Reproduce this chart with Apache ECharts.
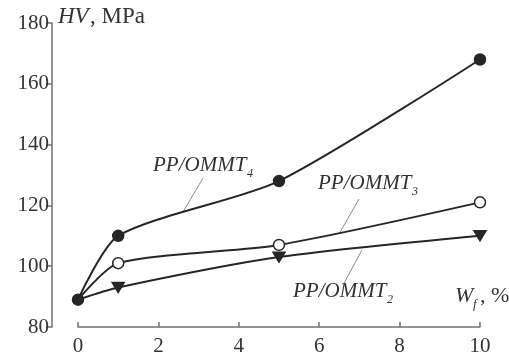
<!DOCTYPE html>
<html>
<head>
<meta charset="utf-8">
<script src="https://cdn.jsdelivr.net/npm/echarts@6/dist/echarts.min.js"></script>
<style>
  html, body { margin: 0; padding: 0; background: #fff; }
  #chart { width: 509px; height: 359px; }
</style>
</head>
<body>
<div id="chart"></div>
<script>
// filler content, wt.%
const fillerContent = [0, 1, 5, 10];
// hardness HV, MPa
const hvOmmt4 = [89, 110, 128, 168];
const hvOmmt3 = [89, 101, 107, 121];
const hvOmmt2 = [89, 93, 103, 110];

const INK = '#262626';
const AXIS = '#707070';
const TEXT = '#333';
const LEADER = '#8c8c8c';
const serif = '"Liberation Serif", "DejaVu Serif", serif';

// first point is shared by all curves, only the filled series draws it
const toPoints = (values, skipFirst) =>
  fillerContent.map((x, i) =>
    skipFirst && i === 0 ? { value: [x, values[i]], symbol: 'none' } : [x, values[i]]
  );

const lineSeries = (values, extra) =>
  Object.assign(
    {
      type: 'line',
      smooth: 0.24,
      symbolSize: 11,
      lineStyle: { color: INK, width: 2 },
      itemStyle: { color: INK, borderColor: INK, borderWidth: 1.5 },
      emphasis: { disabled: true },
    },
    extra,
    { data: values }
  );

const txt = (x, y, text, font) => ({
  type: 'text',
  left: x,
  top: y,
  style: { text: text, font: font, fill: TEXT },
});
const leader = (x1, y1, x2, y2) => ({
  type: 'line',
  shape: { x1: x1, y1: y1, x2: x2, y2: y2 },
  style: { stroke: LEADER, lineWidth: 1 },
});

const chart = echarts.init(document.getElementById('chart'), null, { renderer: 'canvas' });

chart.setOption({
  animation: false,
  grid: { left: 78, right: 29, top: 23, bottom: 32 },
  xAxis: {
    type: 'value',
    min: 0,
    max: 10,
    interval: 2,
    axisLine: { onZero: false, lineStyle: { color: AXIS, width: 1.5 } },
    axisTick: { inside: true, length: 5, lineStyle: { color: AXIS, width: 1.5 } },
    axisLabel: { color: TEXT, fontFamily: serif, fontSize: 21, margin: 9 },
    splitLine: { show: false },
  },
  yAxis: {
    type: 'value',
    min: 80,
    max: 180,
    interval: 20,
    offset: 26,
    axisLine: { show: true, onZero: false, lineStyle: { color: AXIS, width: 1.5 } },
    axisTick: { show: true, length: 6, lineStyle: { color: AXIS, width: 1.5 } },
    axisLabel: { color: TEXT, fontFamily: serif, fontSize: 21, margin: 3 },
    splitLine: { show: false },
  },
  series: [
    lineSeries(toPoints(hvOmmt2, true), {
      symbol: 'triangle',
      symbolRotate: 180,
      symbolSize: [12, 10],
    }),
    lineSeries(toPoints(hvOmmt3, true), {
      symbol: 'circle',
      itemStyle: { color: '#fff', borderColor: INK, borderWidth: 1.5 },
    }),
    lineSeries(toPoints(hvOmmt4, false), { symbol: 'circle', z: 3 }),
  ],
  graphic: [
    // axis titles
    txt(58, 5, 'HV', 'italic 23px ' + serif),
    txt(90, 5, ', MPa', '23px ' + serif),
    txt(455, 285, 'W', 'italic 22px ' + serif),
    txt(473, 298, 'f', 'italic 13px ' + serif),
    txt(480, 285, ', %', '22px ' + serif),
    // curve labels
    txt(153, 155, 'PP/OMMT', 'italic 21px ' + serif),
    txt(247, 168, '4', 'italic 12px ' + serif),
    txt(318, 173, 'PP/OMMT', 'italic 21px ' + serif),
    txt(412, 186, '3', 'italic 12px ' + serif),
    txt(293, 281, 'PP/OMMT', 'italic 21px ' + serif),
    txt(387, 294, '2', 'italic 12px ' + serif),
    // leader lines
    leader(203, 178, 183, 212),
    leader(359, 199, 339, 234),
    leader(362, 250, 343, 285),
  ],
});
</script>
</body>
</html>
